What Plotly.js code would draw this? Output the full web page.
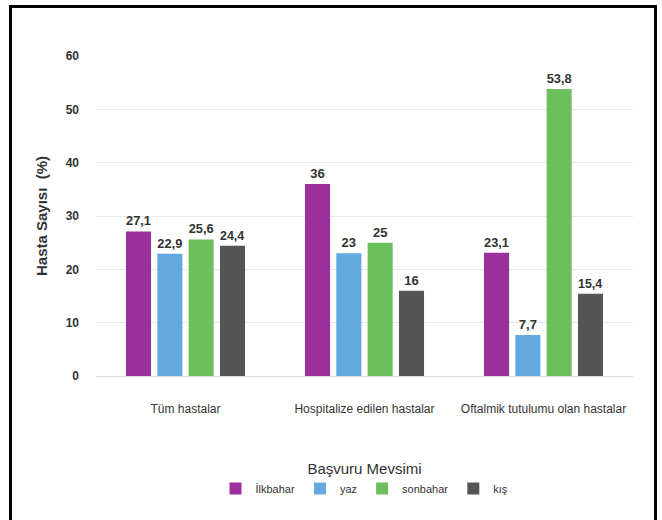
<!DOCTYPE html>
<html>
<head>
<meta charset="utf-8">
<script src="https://cdn.plot.ly/plotly-3.0.1.min.js"></script>
<style>
html,body{margin:0;padding:0;background:#fff;}
#wrap{position:relative;width:662px;height:520px;}
#chart{position:absolute;left:0;top:0;width:662px;height:520px;}
#frame{position:absolute;left:9px;top:5px;width:642px;height:530px;border:3px solid #000;pointer-events:none;}
</style>
</head>
<body>
<div id="wrap"><div id="chart"></div><div id="frame"></div></div>
<script>
const categories = ["Tüm hastalar", "Hospitalize edilen hastalar", "Oftalmik tutulumu olan hastalar"];
const seriesNames = ["İlkbahar", "yaz", "sonbahar", "kış"];
const ilkbahar = [27.1, 36, 23.1];
const yaz = [22.9, 23, 7.7];
const sonbahar = [25.6, 25, 53.8];
const kis = [24.4, 16, 15.4];
const yTicks = [0, 10, 20, 30, 40, 50, 60];

const colors = ["#9b2f9c", "#61a9e0", "#6cbf5c", "#555555"];
const values = [ilkbahar, yaz, sonbahar, kis];
const fontFam = "'Liberation Sans', Arial, sans-serif";

const traces = values.map((v, i) => ({
  type: "bar",
  name: seriesNames[i],
  x: categories,
  y: v,
  marker: {color: colors[i]},
  texttemplate: "%{y}",
  textposition: "outside",
  cliponaxis: false,
  textfont: {family: fontFam, size: 13, color: "#333", weight: "bold"},
  hoverinfo: "skip"
}));

const layout = {
  width: 662, height: 520,
  margin: {l: 96, r: 29, t: 56, b: 144, autoexpand: false},
  paper_bgcolor: "#fff", plot_bgcolor: "#fff",
  separators: ",.",
  barmode: "group",
  bargap: 0.3,
  bargroupgap: 0.2,
  font: {family: fontFam, color: "#333"},
  xaxis: {
    tickfont: {family: fontFam, size: 12, color: "#333"},
    ticklabelstandoff: 22,
    showline: true, linecolor: "#d9d9d9", linewidth: 1,
    showgrid: false, ticks: ""
  },
  yaxis: {
    range: [0, 60],
    tickvals: yTicks,
    ticktext: yTicks.map(String),
    tickfont: {family: fontFam, size: 12, color: "#333", weight: "bold"},
    ticklabelstandoff: 16,
    showgrid: true, gridcolor: "#e8e8e8", gridwidth: 1,
    zeroline: false, showline: false, ticks: "",
    title: {text: "Hasta Sayısı  (%)", font: {family: fontFam, size: 15, color: "#333", weight: "bold"}, standoff: 14}
  },
  showlegend: true,
  legend: {
    orientation: "h",
    x: 0.5, xanchor: "center",
    y: -0.245, yanchor: "top",
    font: {family: fontFam, size: 11, color: "#333"},
    title: {text: "Başvuru Mevsimi", side: "top center", font: {family: fontFam, size: 15, color: "#333"}},
    itemwidth: 30,
    tracegroupgap: 0
  }
};

Plotly.newPlot("chart", traces, layout, {displayModeBar: false, staticPlot: true});
</script>
</body>
</html>
